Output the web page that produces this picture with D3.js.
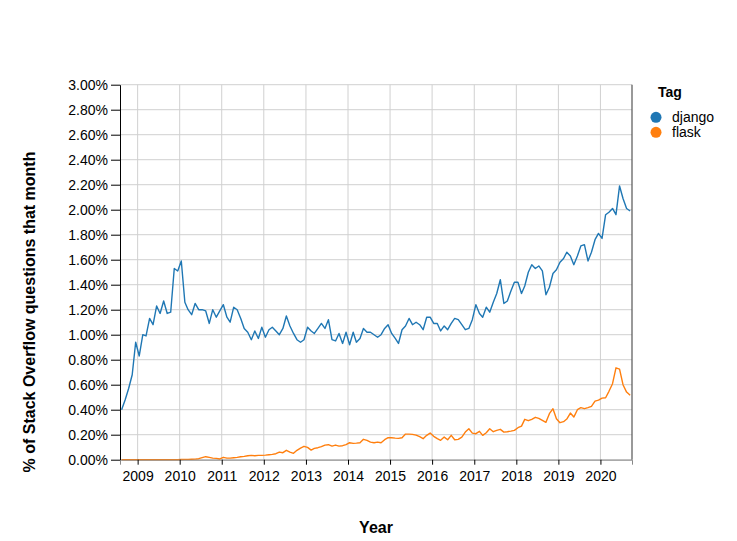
<!DOCTYPE html>
<html>
<head>
<meta charset="utf-8">
<script src="https://cdn.jsdelivr.net/npm/d3@7"></script>
<style>
  html, body { margin: 0; padding: 0; background: #fff; }
  svg { display: block; font-family: "Liberation Sans", Arial, sans-serif; }
</style>
</head>
<body>
<svg id="chart" width="737" height="541"></svg>
<script>
// ---- data ----
const startYear = 2008, startMonth = 7; // August 2008 (0-based month)
const tags = ["django", "flask"];
const colors = ["#1f77b4", "#ff7f0e"];
const django = [
  0.40, 0.48, 0.57, 0.68, 0.94, 0.83, 1.00, 0.99, 1.13, 1.08,
  1.23, 1.17, 1.27, 1.17, 1.18, 1.53, 1.51, 1.59, 1.26, 1.20,
  1.16, 1.25, 1.20, 1.20, 1.19, 1.09, 1.20, 1.14, 1.19, 1.24,
  1.14, 1.10, 1.22, 1.20, 1.13, 1.05, 1.02, 0.96, 1.03, 0.97,
  1.06, 0.98, 1.04, 1.06, 1.03, 1.00, 1.05, 1.15, 1.07, 1.01,
  0.96, 0.94, 0.96, 1.06, 1.03, 1.01, 1.05, 1.09, 1.05, 1.12,
  0.96, 0.95, 1.01, 0.93, 1.02, 0.92, 1.02, 0.94, 0.97, 1.05,
  1.02, 1.02, 1.00, 0.98, 1.00, 1.05, 1.08, 1.01, 0.97, 0.93,
  1.04, 1.07, 1.13, 1.08, 1.10, 1.08, 1.04, 1.14, 1.14, 1.09,
  1.09, 1.03, 1.07, 1.04, 1.09, 1.13, 1.12, 1.08, 1.04, 1.05,
  1.12, 1.24, 1.17, 1.14, 1.22, 1.18, 1.26, 1.33, 1.44, 1.25,
  1.27, 1.35, 1.42, 1.42, 1.33, 1.39, 1.50, 1.56, 1.53, 1.55,
  1.51, 1.32, 1.38, 1.49, 1.52, 1.58, 1.61, 1.66, 1.63, 1.56,
  1.63, 1.71, 1.72, 1.59, 1.66, 1.76, 1.81, 1.77, 1.96, 1.98,
  2.01, 1.96, 2.19, 2.09, 2.01, 1.99
];
const flask = [
  0, 0, 0, 0, 0, 0, 0, 0, 0, 0,
  0, 0, 0, 0, 0, 0, 0, 0.002, 0.003, 0.003,
  0.004, 0.005, 0.008, 0.016, 0.024, 0.019, 0.013, 0.011, 0.006, 0.019,
  0.013, 0.013, 0.016, 0.019, 0.024, 0.027, 0.032, 0.035, 0.032, 0.035,
  0.035, 0.037, 0.040, 0.043, 0.048, 0.061, 0.056, 0.075, 0.061, 0.051,
  0.075, 0.093, 0.107, 0.099, 0.077, 0.091, 0.096, 0.104, 0.117, 0.120,
  0.109, 0.117, 0.109, 0.112, 0.120, 0.136, 0.131, 0.133, 0.136, 0.163,
  0.155, 0.141, 0.136, 0.141, 0.136, 0.160, 0.176, 0.176, 0.173, 0.171,
  0.176, 0.205, 0.205, 0.203, 0.197, 0.184, 0.168, 0.195, 0.213, 0.187,
  0.168, 0.155, 0.181, 0.160, 0.195, 0.160, 0.163, 0.181, 0.221, 0.248,
  0.213, 0.208, 0.227, 0.195, 0.216, 0.248, 0.224, 0.235, 0.243, 0.221,
  0.224, 0.229, 0.235, 0.256, 0.269, 0.323, 0.312, 0.323, 0.339, 0.331,
  0.315, 0.299, 0.368, 0.408, 0.328, 0.296, 0.304, 0.325, 0.373, 0.341,
  0.400, 0.416, 0.408, 0.416, 0.427, 0.469, 0.477, 0.493, 0.496, 0.547,
  0.608, 0.735, 0.725, 0.600, 0.541, 0.515
];
const yTicks = [0, 0.2, 0.4, 0.6, 0.8, 1.0, 1.2, 1.4, 1.6, 1.8, 2.0, 2.2, 2.4, 2.6, 2.8, 3.0];
const yTitle = "% of Stack Overflow questions that month";
const xTitle = "Year";
const legendTitle = "Tag";

// ---- layout ----
const svg = d3.select("#chart");
const mLeft = 120, mRight = 632, mTop = 84.7, mBottom = 459.7;
const font = '"Liberation Sans", Arial, sans-serif';

const x = d3.scaleUtc()
  .domain([new Date(Date.UTC(2008, 7, 1)), new Date(Date.UTC(2020, 9, 1))])
  .range([mLeft, mRight]);
const y = d3.scaleLinear().domain([0, 3]).range([mBottom, mTop]);

const dateOf = i => new Date(Date.UTC(startYear, startMonth + i, 15));
const series = [django, flask].map((vals, k) => ({
  tag: tags[k], color: colors[k],
  values: vals.map((v, i) => ({ date: dateOf(i), value: v }))
}));

const yearTicks = d3.utcYear.range(new Date(Date.UTC(2009, 0, 1)), new Date(Date.UTC(2020, 1, 1)));

// grid
const grid = svg.append("g");
grid.selectAll("line.h").data(yTicks).join("line")
  .attr("x1", mLeft).attr("x2", mRight)
  .attr("y1", d => y(d)).attr("y2", d => y(d))
  .attr("stroke", "#d0d0d0").attr("stroke-width", 1);
grid.selectAll("line.v").data(yearTicks).join("line")
  .attr("x1", d => x(d)).attr("x2", d => x(d))
  .attr("y1", mTop).attr("y2", mBottom)
  .attr("stroke", "#d0d0d0").attr("stroke-width", 1);

// right border
svg.append("line")
  .attr("x1", mRight).attr("x2", mRight).attr("y1", mTop).attr("y2", mBottom)
  .attr("stroke", "#555").attr("stroke-width", 1.2);

// lines
const line = d3.line().x(d => x(d.date)).y(d => y(d.value));
svg.append("g").selectAll("path").data(series).join("path")
  .attr("fill", "none")
  .attr("stroke", d => d.color)
  .attr("stroke-width", 1.4)
  .attr("stroke-linejoin", "round")
  .attr("d", d => line(d.values));

// x axis
const xAxis = d3.axisBottom(x)
  .tickValues(yearTicks)
  .tickFormat(d3.utcFormat("%Y"))
  .tickSize(5).tickSizeOuter(5).tickPadding(6);
const gx = svg.append("g").attr("transform", `translate(0,${mBottom})`).call(xAxis);
gx.select(".domain").attr("stroke", "#888");
gx.selectAll(".tick line").attr("stroke", "#000");
gx.selectAll(".tick text").attr("font-size", 14).attr("font-family", font).attr("fill", "#000");

// y axis
const yAxis = d3.axisLeft(y)
  .tickValues(yTicks)
  .tickFormat(d => d3.format(".2f")(d) + "%")
  .tickSize(9).tickSizeOuter(0).tickPadding(3);
const gy = svg.append("g").attr("transform", `translate(${mLeft},0)`).call(yAxis);
gy.select(".domain").attr("stroke", "#000");
gy.selectAll(".tick line").attr("stroke", "#000");
gy.selectAll(".tick text").attr("font-size", 14).attr("font-family", font).attr("fill", "#000");

// titles
svg.append("text")
  .attr("transform", "translate(35,312) rotate(-90)")
  .attr("text-anchor", "middle")
  .attr("font-size", 16).attr("font-weight", "bold").attr("font-family", font)
  .text(yTitle);
svg.append("text")
  .attr("x", 376).attr("y", 533)
  .attr("text-anchor", "middle")
  .attr("font-size", 16).attr("font-weight", "bold").attr("font-family", font)
  .text(xTitle);

// legend
const lg = svg.append("g");
lg.append("text").attr("x", 658).attr("y", 97)
  .attr("font-size", 14).attr("font-weight", "bold").attr("font-family", font)
  .text(legendTitle);
const items = lg.selectAll("g.item").data(series).join("g")
  .attr("transform", (d, i) => `translate(656,${117.3 + i * 15})`);
items.append("circle").attr("r", 5.5).attr("fill", d => d.color);
items.append("text").attr("x", 16).attr("y", 4.6)
  .attr("font-size", 14).attr("font-family", font)
  .text(d => d.tag);
</script>
</body>
</html>
